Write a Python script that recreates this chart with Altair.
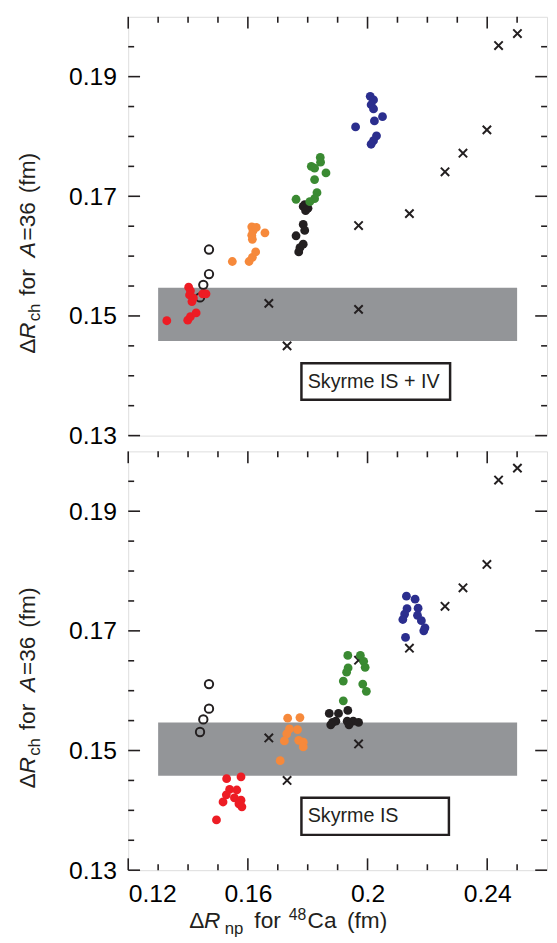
import altair as alt
import pandas as pd

FONT = "Liberation Sans"

# ---------------- data ----------------
# crosses (same in both panels)
cross_x = [0.2501, 0.2438, 0.2399, 0.2319, 0.2259, 0.2140, 0.1970, 0.1670, 0.1970, 0.1731]
cross_y = [0.1972, 0.1952, 0.1811, 0.1772, 0.1741, 0.1671, 0.1651, 0.1521, 0.1511, 0.1450]

# open circles (same in both panels)
open_x = [0.1470, 0.1470, 0.1451, 0.1440]
open_y = [0.1611, 0.1570, 0.1552, 0.1531]

# ---- Skyrme IS+IV panel (top) ----
isiv_red_x = [0.1329, 0.1399, 0.1408, 0.1427, 0.1402, 0.1408, 0.1405, 0.1413, 0.1449, 0.1460, 0.1418]
isiv_red_y = [0.1492, 0.1493, 0.1499, 0.1505, 0.1548, 0.1542, 0.1535, 0.1524, 0.1537, 0.1537, 0.1530]
isiv_orange_x = [0.1548, 0.1604, 0.1615, 0.1626, 0.1615, 0.1617, 0.1613, 0.1657, 0.1628, 0.1613]
isiv_orange_y = [0.1591, 0.1591, 0.1598, 0.1607, 0.1628, 0.1642, 0.1649, 0.1639, 0.1648, 0.1635]
isiv_black_x = [0.1785, 0.1801, 0.1790, 0.1793, 0.1785, 0.1790, 0.1761, 0.1785, 0.1774, 0.1770]
isiv_black_y = [0.1683, 0.1680, 0.1686, 0.1676, 0.1653, 0.1643, 0.1634, 0.1620, 0.1614, 0.1607]
isiv_green_x = [0.1842, 0.1843, 0.1812, 0.1823, 0.1861, 0.1823, 0.1831, 0.1823, 0.1761, 0.1807]
isiv_green_y = [0.1765, 0.1757, 0.1750, 0.1747, 0.1739, 0.1728, 0.1706, 0.1696, 0.1695, 0.1691]
isiv_blue_x = [0.2009, 0.2020, 0.2012, 0.2020, 0.2050, 0.2023, 0.1960, 0.2030, 0.2020, 0.2012]
isiv_blue_y = [0.1867, 0.1861, 0.1853, 0.1846, 0.1833, 0.1826, 0.1816, 0.1801, 0.1793, 0.1787]

# ---- Skyrme IS panel (bottom) ----
is_red_x = [0.1529, 0.1577, 0.1539, 0.1563, 0.1528, 0.1555, 0.1577, 0.1517, 0.1580, 0.1495, 0.1570]
is_red_y = [0.1453, 0.1456, 0.1435, 0.1434, 0.1426, 0.1421, 0.1417, 0.1414, 0.1406, 0.1384, 0.1411]
is_orange_x = [0.1733, 0.1774, 0.1739, 0.1766, 0.1730, 0.1722, 0.1770, 0.1785, 0.1785, 0.1708]
is_orange_y = [0.1554, 0.1555, 0.1536, 0.1535, 0.1528, 0.1516, 0.1517, 0.1514, 0.1506, 0.1483]
is_black_x = [0.1872, 0.1903, 0.1934, 0.1883, 0.1894, 0.1932, 0.1952, 0.1970, 0.1877, 0.1938]
is_black_y = [0.1562, 0.1562, 0.1567, 0.1547, 0.1549, 0.1549, 0.1549, 0.1547, 0.1543, 0.1543]
is_green_x = [0.1934, 0.1976, 0.1987, 0.1992, 0.1935, 0.1930, 0.1919, 0.1984, 0.1996, 0.1919]
is_green_y = [0.1659, 0.1659, 0.1649, 0.1639, 0.1638, 0.1631, 0.1616, 0.1611, 0.1599, 0.1583]
is_blue_x = [0.2130, 0.2159, 0.2132, 0.2169, 0.2124, 0.2167, 0.2118, 0.2180, 0.2192, 0.2188, 0.2127]
is_blue_y = [0.1758, 0.1753, 0.1737, 0.1738, 0.1728, 0.1726, 0.1719, 0.1717, 0.1705, 0.1700, 0.1689]

group_names = ["red", "orange", "black", "green", "blue"]
group_colors = ["#ED1C24", "#F6893B", "#231F20", "#3A8A32", "#2B2E8E"]

# shaded experimental band and label boxes (data units)
band_x = [0.130, 0.250]
band_y = [0.1458, 0.1547]
box_isiv = {"x": 0.1779, "x2": 0.2276, "y": 0.1421, "y2": 0.1360, "tx": 0.1800, "ty": 0.1379, "label": "Skyrme IS + IV"}
box_is = {"x": 0.1779, "x2": 0.2272, "y": 0.1421, "y2": 0.1359, "tx": 0.1800, "ty": 0.1380, "label": "Skyrme IS"}

# axes ticks
x_domain = [0.12, 0.26]
y_domain = [0.13, 0.20]
x_major = [0.12, 0.16, 0.20, 0.24]
x_minor = [0.13, 0.14, 0.15, 0.17, 0.18, 0.19, 0.21, 0.22, 0.23, 0.25]
y_major = [0.13, 0.15, 0.17, 0.19]
y_minor = [0.135, 0.14, 0.145, 0.155, 0.16, 0.165, 0.175, 0.18, 0.185, 0.195]

# ---------------- chart ----------------
W, H = 425, 425
xs = alt.Scale(domain=x_domain, nice=False, zero=False)
ys = alt.Scale(domain=y_domain, nice=False, zero=False)

y_axis = alt.Axis(values=y_major, format="~g", ticks=False, tickSize=0, domain=False, grid=False,
                  labelFont=FONT, labelFontSize=25, labelPadding=12, labelColor="black",
                  labelOverlap=False, title=None)
x_axis_bottom = alt.Axis(values=x_major, format="~g", ticks=False, tickSize=0, domain=False, grid=False,
                         labelFont=FONT, labelFontSize=25, labelPadding=12, labelColor="black",
                         labelOverlap=False, title=None)


def panel(groups, box, show_x):
    xa = x_axis_bottom if show_x else None

    def X(f):
        return alt.X(f, type="quantitative", scale=xs, axis=xa)

    def Y(f):
        return alt.Y(f, type="quantitative", scale=ys, axis=y_axis)

    layers = []
    band = pd.DataFrame({"x": [band_x[0]], "x2": [band_x[1]], "y": [band_y[0]], "y2": [band_y[1]]})
    layers.append(alt.Chart(band).mark_rect(color="#939598").encode(
        x=X("x"), x2="x2", y=Y("y"), y2="y2"))

    bx = pd.DataFrame({"x": [box["x"]], "x2": [box["x2"]], "y": [box["y"]], "y2": [box["y2"]],
                       "tx": [box["tx"]], "ty": [box["ty"]], "label": [box["label"]]})
    layers.append(alt.Chart(bx).mark_rect(fill="white", stroke="#231F20", strokeWidth=2.5).encode(
        x=X("x"), x2="x2", y=Y("y"), y2="y2"))
    layers.append(alt.Chart(bx).mark_text(align="left", baseline="alphabetic", font=FONT,
                                          fontSize=20, color="#231F20").encode(
        x=X("tx"), y=Y("ty"), text="label:N"))

    cr = pd.DataFrame({"x": cross_x, "y": cross_y})
    layers.append(alt.Chart(cr).mark_point(shape="M-1,-1L1,1M-1,1L1,-1", filled=False, color="#231F20",
                                           strokeWidth=2, size=72, opacity=1).encode(x=X("x"), y=Y("y")))

    oc = pd.DataFrame({"x": open_x, "y": open_y})
    layers.append(alt.Chart(oc).mark_point(shape="circle", filled=False, color="#231F20",
                                           strokeWidth=2, size=72, opacity=1).encode(x=X("x"), y=Y("y")))

    rows = []
    for name, (gx, gy) in zip(group_names, groups):
        for a, b in zip(gx, gy):
            rows.append({"x": a, "y": b, "g": name})
    fd = pd.DataFrame(rows)
    layers.append(alt.Chart(fd).mark_circle(size=80, opacity=1).encode(
        x=X("x"), y=Y("y"),
        color=alt.Color("g:N", scale=alt.Scale(domain=group_names, range=group_colors), legend=None)))

    # inward tick marks
    for vals, ln in [(y_major, 12), (y_minor, 6)]:
        d = pd.DataFrame({"v": vals})
        base = alt.Chart(d).mark_rule(color="#231F20", strokeWidth=1.6)
        layers.append(base.encode(y=Y("v"), x=alt.value(0), x2=alt.value(ln)))
        layers.append(base.encode(y=Y("v"), x=alt.value(W - ln), x2=alt.value(W)))
    for vals, ln in [(x_major, 12), (x_minor, 6)]:
        d = pd.DataFrame({"v": vals})
        base = alt.Chart(d).mark_rule(color="#231F20", strokeWidth=1.6)
        layers.append(base.encode(x=X("v"), y=alt.value(0), y2=alt.value(ln)))
        if show_x:
            layers.append(base.encode(x=X("v"), y=alt.value(H - ln), y2=alt.value(H)))

    # rotated y title: "ΔR_ch for A=36 (fm)"
    one = pd.DataFrame({"a": [0]})
    y0 = 342
    bx0 = -95
    pieces = [("Δ", 0, 23, "normal", 0), ("R", 15, 23, "italic", 0), ("ch", 33, 17, "normal", 5),
              ("for", 59, 23, "normal", 0), ("A", 98, 23, "italic", 0), ("=36", 115, 23, "normal", 0),
              ("(fm)", 163, 23, "normal", 0)]
    for txt, off, fs, st, dx in pieces:
        layers.append(alt.Chart(one).mark_text(text=txt, angle=270, align="left", baseline="alphabetic",
                                               font=FONT, fontSize=fs, fontStyle=st, color="#231F20").encode(
            x=alt.value(bx0 + dx), y=alt.value(y0 - off)))

    if show_x:
        # x title: "ΔR_np for 48Ca (fm)"
        xp = [("Δ", 62, 23, "normal", 484), ("R", 77, 23, "italic", 484), ("np", 98, 17, "normal", 490),
              ("for", 128, 23, "normal", 484), ("48", 163, 16, "normal", 476), ("Ca", 182, 23, "normal", 484),
              ("(fm)", 222, 23, "normal", 484)]
        for txt, xx, fs, st, yy in xp:
            layers.append(alt.Chart(one).mark_text(text=txt, align="left", baseline="alphabetic",
                                                   font=FONT, fontSize=fs, fontStyle=st, color="#231F20").encode(
                x=alt.value(xx), y=alt.value(yy)))

    return alt.layer(*layers).properties(width=W, height=H)


top = panel([(isiv_red_x, isiv_red_y), (isiv_orange_x, isiv_orange_y), (isiv_black_x, isiv_black_y),
             (isiv_green_x, isiv_green_y), (isiv_blue_x, isiv_blue_y)], box_isiv, False)
bottom = panel([(is_red_x, is_red_y), (is_orange_x, is_orange_y), (is_black_x, is_black_y),
                (is_green_x, is_green_y), (is_blue_x, is_blue_y)], box_is, True)

chart = alt.vconcat(top, bottom, spacing=0).configure_view(
    stroke="#231F20", strokeWidth=2
).configure(padding={"left": 8, "top": 0, "right": 0, "bottom": 0}, background="white")

chart.save("out.html", embed_options={"renderer": "svg", "actions": False})
